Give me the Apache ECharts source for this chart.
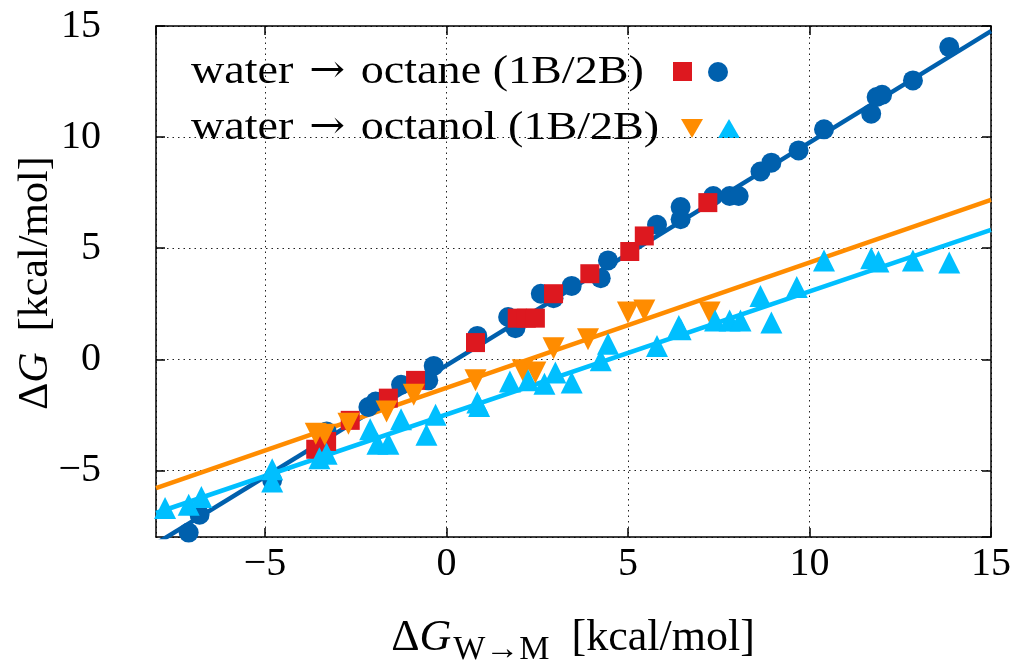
<!DOCTYPE html>
<html>
<head>
<meta charset="utf-8">
<script src="https://cdn.jsdelivr.net/npm/echarts@6/dist/echarts.min.js"></script>
<style>
html,body{margin:0;padding:0;background:#fff;}
#chart{width:1016px;height:671px;}
</style>
</head>
<body>
<div id="chart"></div>
<script>
// ---- data ----
const octane2B = [[-7.1,-7.8],[-6.8,-7.0],[-4.8,-5.45],[-3.3,-3.25],[-2.15,-2.15],[-1.95,-1.9],[-1.25,-1.15],[-0.5,-0.95],[-0.35,-0.3],[0.85,1.05],[1.7,1.9],[1.9,1.4],[2.6,2.95],[2.95,2.75],[3.45,3.3],[4.25,3.65],[4.45,4.45],[5.8,6.05],[6.45,6.85],[6.45,6.3],[7.35,7.35],[7.8,7.35],[8.05,7.35],[8.65,8.45],[8.95,8.85],[9.7,9.4],[10.4,10.35],[11.7,11.05],[11.85,11.8],[12.0,11.9],[12.85,12.55],[13.85,14.05]];
const octane1B = [[-3.6,-4.05],[-3.3,-3.7],[-2.65,-2.75],[-1.6,-1.75],[-0.85,-0.95],[0.8,0.75],[1.95,1.85],[2.2,1.85],[2.45,1.85],[2.95,2.95],[3.95,3.85],[5.05,4.85],[5.45,5.55],[7.2,7.05]];
const octanol1B = [[-3.6,-3.35],[-3.35,-3.4],[-2.7,-2.9],[-1.65,-2.35],[-0.9,-1.6],[0.8,-0.95],[2.1,-0.5],[2.45,-0.6],[2.95,0.5],[3.9,0.9],[5.0,2.1],[5.45,2.2],[7.25,2.1]];
const octanol2B = [[-7.75,-6.7],[-7.1,-6.55],[-6.75,-6.2],[-4.8,-4.95],[-4.8,-5.5],[-3.5,-4.45],[-3.3,-4.25],[-2.1,-3.15],[-1.9,-3.8],[-1.6,-3.8],[-1.25,-2.7],[-0.55,-3.4],[-0.3,-2.5],[0.85,-1.95],[0.9,-2.1],[1.75,-1.0],[2.25,-0.95],[2.7,-1.1],[3.0,-0.6],[3.45,-1.05],[4.25,-0.05],[4.45,0.7],[5.8,0.6],[6.4,1.5],[6.45,1.35],[7.4,1.75],[7.8,1.75],[8.1,1.75],[8.65,2.85],[8.95,1.65],[9.65,3.25],[10.4,4.45],[11.7,4.55],[11.9,4.4],[12.85,4.45],[13.85,4.35]];
const fitOctane = [[-8,-8.3],[15,14.77]];
const fitOctanol1B = [[-8,-5.8],[15,7.17]];
const fitOctanol2B = [[-8,-6.92],[15,5.82]];
const xRange = [-8, 15];
const yRange = [-8, 15];
const legendLabels = ['octane (1B/2B)', 'octanol (1B/2B)'];

const C = {blue:'#0060ad', red:'#dd181f', orange:'#ff8c00', sky:'#00bfff'};
const FONT = '"Liberation Serif", serif';
const AFONT = '"DejaVu Serif", serif';

const chart = echarts.init(document.getElementById('chart'), null, {renderer:'canvas'});
const fmt = v => v < 0 ? '\u2212' + Math.abs(v) : String(v);
const splitStyle = {show:true, lineStyle:{color:'#222', width:1, type:[1.5,4]}};
const baseAxis = {
  type:'value', scale:false,
  axisLine:{show:true, onZero:false, lineStyle:{color:'#000', width:1.5}},
  axisTick:{show:true, inside:true, length:9, lineStyle:{color:'#000', width:1.5}},
};
const xAxisMain = Object.assign({}, baseAxis, {
  min:xRange[0], max:xRange[1], splitNumber:5, position:'bottom',
  axisLabel:{show:true, showMinLabel:false, margin:7, formatter:fmt, color:'#000', fontFamily:FONT, fontSize:40},
  splitLine:splitStyle
});
const xAxisTop = Object.assign({}, baseAxis, {
  min:xRange[0], max:xRange[1], splitNumber:5, position:'top',
  axisLabel:{show:false}, splitLine:{show:false}
});
const yAxisMain = Object.assign({}, baseAxis, {
  min:yRange[0], max:yRange[1], splitNumber:5, position:'left',
  axisLabel:{show:true, showMinLabel:false, margin:55, formatter:fmt, color:'#000', fontFamily:FONT, fontSize:40},
  splitLine:splitStyle
});
const yAxisRight = Object.assign({}, baseAxis, {
  min:yRange[0], max:yRange[1], splitNumber:5, position:'right',
  axisLabel:{show:false}, splitLine:{show:false}
});

function scat(name, data, symbol, color, size, rot){
  return {type:'scatter', name, data, symbol, symbolSize:size, symbolRotate:rot||0,
    itemStyle:{color, opacity:1}, xAxisIndex:0, yAxisIndex:0, z:3, silent:true, clip:true};
}
function fitLine(name, data, color){
  return {type:'line', name, data, showSymbol:false, symbol:'none', lineStyle:{color, width:4.5}, z:2, silent:true, clip:true};
}
const legRich = {
  t:{fontFamily:FONT, fontSize:41, fill:'#000'},
  a:{fontFamily:AFONT, fontSize:38, fill:'#000', padding:[0,14,0,14]}
};

chart.setOption({
  animation:false,
  backgroundColor:'#fff',
  grid:{left:156, right:25, top:26, bottom:134, show:false},
  xAxis:[xAxisMain, xAxisTop],
  yAxis:[yAxisMain, yAxisRight],
  series:[
    fitLine('fit octane', fitOctane, C.blue),
    fitLine('fit octanol 1B', fitOctanol1B, C.orange),
    fitLine('fit octanol 2B', fitOctanol2B, C.sky),
    scat('octane 2B', octane2B, 'circle', C.blue, 20),
    scat('octane 1B', octane1B, 'rect', C.red, 19),
    scat('octanol 1B', octanol1B, 'triangle', C.orange, 22, 180),
    scat('octanol 2B', octanol2B, 'triangle', C.sky, 22)
  ],
  graphic:[
    {type:'text', x:191, y:72, scaleX:1.125, style:{text:'{t|water}{a|→}{t|' + legendLabels[0] + '}', verticalAlign:'middle', align:'left', rich:legRich}},
    {type:'text', x:191, y:128, scaleX:1.125, style:{text:'{t|water}{a|→}{t|' + legendLabels[1] + '}', verticalAlign:'middle', align:'left', rich:legRich}},
    {type:'rect', shape:{x:673, y:62, width:19, height:19}, style:{fill:C.red}},
    {type:'circle', shape:{cx:718, cy:72, r:10}, style:{fill:C.blue}},
    {type:'polygon', shape:{points:[[681,119],[703,119],[692,138]]}, style:{fill:C.orange}},
    {type:'polygon', shape:{points:[[718,138],[740,138],[729,119]]}, style:{fill:C.sky}},
    {type:'text', x:573, y:638, style:{
      text:'{d|Δ}{g|G}{s|W→M}{n|  [kcal/mol]}', align:'center', verticalAlign:'middle',
      rich:{
        d:{fontFamily:FONT, fontSize:44, fill:'#000'},
        g:{fontFamily:FONT, fontSize:44, fontStyle:'italic', fill:'#000'},
        s:{fontFamily:FONT, fontSize:34, fill:'#000', padding:[24,0,0,2]},
        n:{fontFamily:FONT, fontSize:44, fill:'#000'}
      }}},
    {type:'text', x:36, y:283, rotation:Math.PI/2, style:{
      text:'{d|Δ}{g|G}{n|  [kcal/mol]}', align:'center', verticalAlign:'middle',
      rich:{
        d:{fontFamily:FONT, fontSize:42, fill:'#000'},
        g:{fontFamily:FONT, fontSize:42, fontStyle:'italic', fill:'#000'},
        n:{fontFamily:FONT, fontSize:42, fill:'#000'}
      }}}
  ]
});
</script>
</body>
</html>
